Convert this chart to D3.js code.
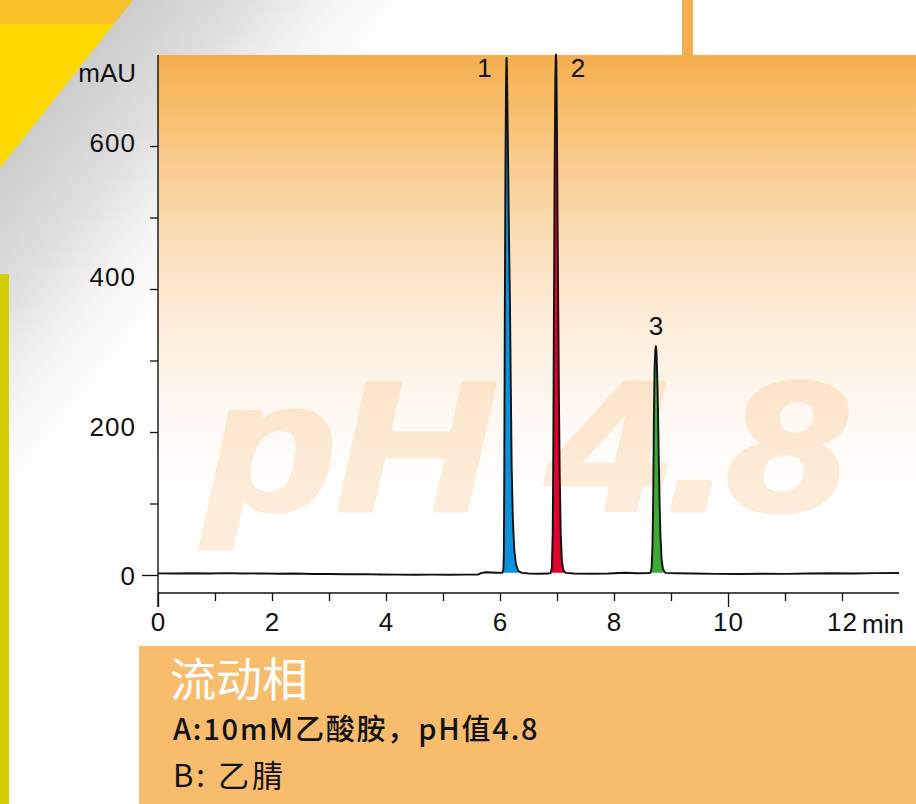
<!DOCTYPE html>
<html>
<head>
<meta charset="utf-8">
<script src="https://cdn.jsdelivr.net/npm/d3@7"></script>
<style>
  html, body { margin: 0; padding: 0; background: #fff; }
  svg { display: block; }
</style>
</head>
<body>
<script>
// ---- chromatogram data (time in min, absorbance in mAU) ----
const baselineTime = [0, 0.3, 0.6, 0.9, 1.2, 1.5, 1.8, 2.1, 2.4, 2.7, 3.0, 3.3, 3.6, 3.9, 4.2, 4.5, 4.8, 5.1, 5.4, 5.62, 5.68, 5.75, 5.85, 5.95, 6.02,
  6.5, 6.7, 6.85, 7.3, 7.6, 7.9, 8.2, 8.4, 8.6, 9.1, 9.4, 9.8, 10.2, 10.6, 11.0, 11.4, 11.8, 12.2, 12.6, 13.0];
const baselineMAU = [2.3, 2.0, 2.5, 2.2, 2.6, 2.0, 2.3, 1.8, 2.0, 1.4, 1.5, 1.0, 1.2, 0.6, 0.5, 0.4, 0.5, 0.3, 0.5, 0.8, 3.0, 3.8, 3.5, 3.2, 3.0,
  2.2, 1.8, 2.0, 2.0, 1.8, 2.2, 3.2, 2.5, 2.8, 2.5, 2.0, 1.6, 1.4, 1.8, 1.6, 2.0, 2.4, 2.0, 2.6, 2.8];

const peak1Time = [6.040, 6.060, 6.068, 6.075, 6.085, 6.095, 6.105, 6.112, 6.115, 6.120, 6.130, 6.145, 6.160, 6.175, 6.190, 6.205, 6.225, 6.250, 6.280, 6.320, 6.380];
const peak1MAU  = [3, 8, 30, 140, 380, 560, 680, 718, 723, 715, 660, 560, 460, 380, 260, 150, 80, 35, 15, 6, 3];

const peak2Time = [6.890, 6.910, 6.925, 6.935, 6.945, 6.958, 6.970, 6.978, 6.982, 6.988, 6.998, 7.010, 7.022, 7.035, 7.048, 7.065, 7.085, 7.110, 7.150];
const peak2MAU  = [3, 10, 60, 170, 350, 560, 690, 725, 728, 720, 640, 500, 370, 240, 140, 60, 20, 7, 3];

const peak3Time = [8.640, 8.660, 8.675, 8.688, 8.700, 8.712, 8.725, 8.735, 8.745, 8.758, 8.772, 8.786, 8.800, 8.815, 8.835, 8.860, 8.900];
const peak3MAU  = [3, 10, 40, 110, 220, 290, 315, 320, 312, 280, 230, 160, 100, 55, 22, 8, 3];

const peakLabels = ["1", "2", "3"];
const peakColors = ["#0a93dc", "#e2002c", "#3fa935"];

const xTicks = [0, 1, 2, 3, 4, 5, 6, 7, 8, 9, 10, 11, 12];
const xTickLabels = ["0", "", "2", "", "4", "", "6", "", "8", "", "10", "", "12"];
const yTicks = [0, 100, 200, 300, 400, 500, 600];
const yTickLabels = ["0", "", "200", "", "400", "", "600"];

const xUnit = "min";
const yUnit = "mAU";
const watermark = "pH 4.8";
const mobileTitle = "流动相";
const mobileLines = ["A:10mM乙酸胺，pH值4.8", "B: 乙腈"];

// ---- layout ----
const W = 916, H = 804;
const plotLeft = 158, plotTop = 55, plotRight = 916;
const axisY = 593;

const x = d3.scaleLinear().domain([0, 13]).range([158, 899]);
const y = d3.scaleLinear().domain([0, 600]).range([575, 146]);

const svg = d3.select("body").append("svg").attr("width", W).attr("height", H);
const defs = svg.append("defs");

// grey page background fading away from the yellow corner
const bg = defs.append("linearGradient").attr("id", "bgGrad")
  .attr("gradientUnits", "userSpaceOnUse")
  .attr("x1", 133).attr("y1", 0).attr("x2", 305).attr("y2", 137);
[[0, "#cdcdcd"], [0.25, "#d8d8d8"], [0.4, "#dfdfdf"], [0.6, "#ededed"], [0.75, "#f6f6f6"], [1, "#ffffff"]]
  .forEach(([o, c]) => bg.append("stop").attr("offset", o).attr("stop-color", c));

// orange wash behind the plot
const pg = defs.append("linearGradient").attr("id", "plotGrad")
  .attr("gradientUnits", "userSpaceOnUse")
  .attr("x1", 0).attr("y1", plotTop).attr("x2", 0).attr("y2", 600);
[[0, "#f5ae4e"], [0.08, "#f7bb66"], [0.2, "#f9cc8e"], [0.35, "#fce0bb"], [0.5, "#fdeedc"], [0.65, "#fef8f1"], [0.8, "#ffffff"]]
  .forEach(([o, c]) => pg.append("stop").attr("offset", o).attr("stop-color", c));

svg.append("rect").attr("width", W).attr("height", H).attr("fill", "url(#bgGrad)");

// corner decoration
svg.append("polygon").attr("points", "0,0 133,0 114,24 0,24").attr("fill", "#fbc12a");
svg.append("polygon").attr("points", "0,24 114,24 0,168").attr("fill", "#ffd800");
svg.append("rect").attr("x", 0).attr("y", 274).attr("width", 9).attr("height", H - 274).attr("fill", "#d3cf00");
svg.append("rect").attr("x", 682).attr("y", 0).attr("width", 11).attr("height", plotTop).attr("fill", "#f5ae4e");

// plot panel
svg.append("rect").attr("x", plotLeft).attr("y", plotTop)
  .attr("width", plotRight - plotLeft).attr("height", 640 - plotTop)
  .attr("fill", "url(#plotGrad)");

// faint heavy watermark (group opacity so the outline does not double up)
svg.append("g").attr("opacity", 0.2)
  .append("text")
  .attr("x", 206).attr("y", 510)
  .attr("font-family", "Liberation Sans, Arial, sans-serif")
  .attr("font-weight", "bold").attr("font-style", "italic")
  .attr("font-size", 184)
  .attr("textLength", 640).attr("lengthAdjust", "spacingAndGlyphs")
  .attr("fill", "#f9a645").attr("stroke", "#f9a645").attr("stroke-width", 5)
  .attr("stroke-linejoin", "round")
  .text(watermark);

// ---- trace ----
const toPts = (t, v) => t.map((d, i) => ({ t: d, v: v[i] }));
const peaks = [toPts(peak1Time, peak1MAU), toPts(peak2Time, peak2MAU), toPts(peak3Time, peak3MAU)];
const trace = toPts(baselineTime, baselineMAU).concat(...peaks).sort((a, b) => a.t - b.t);

peaks.forEach((p, i) => {
  const base = p[0].v;
  svg.append("path").datum(p)
    .attr("fill", peakColors[i])
    .attr("d", d3.area().x(d => x(d.t)).y0(y(base)).y1(d => y(d.v)));
});

svg.append("path").datum(trace)
  .attr("fill", "none").attr("stroke", "#111").attr("stroke-width", 1.9)
  .attr("stroke-linejoin", "round")
  .attr("d", d3.line().x(d => x(d.t)).y(d => y(d.v)));

// peak numbers
const labelFont = "Liberation Sans, Arial, Helvetica, sans-serif";
const labelPlace = [{ dx: -22, dy: 0, top: true }, { dx: 22, dy: 0, top: true }, { dx: 0, dy: -11, top: false }];
peaks.forEach((p, i) => {
  const apex = p.reduce((a, b) => (b.v > a.v ? b : a));
  const pl = labelPlace[i];
  svg.append("text")
    .attr("x", x(apex.t) + pl.dx)
    .attr("y", pl.top ? 77 : y(apex.v) + pl.dy)
    .attr("text-anchor", "middle")
    .attr("font-family", labelFont).attr("font-size", 26).attr("fill", "#111")
    .text(peakLabels[i]);
});

// ---- axes ----
const yAxis = d3.axisLeft(y).tickValues(yTicks).tickSize(8).tickPadding(14)
  .tickFormat((d, i) => yTickLabels[i]);
const gy = svg.append("g").attr("transform", `translate(${plotLeft},0)`).call(yAxis);
gy.select(".domain").remove();
gy.selectAll(".tick line").attr("stroke", "#111").attr("stroke-width", 1.3)
  .attr("x2", d => (d === 0 ? -16 : -8));
const yNudge = { 0: 1, 200: -5, 400: -12, 600: -3 };
gy.selectAll(".tick text")
  .attr("font-family", labelFont).attr("font-size", 26).attr("fill", "#111")
  .attr("letter-spacing", 1)
  .attr("dy", d => `${0.32 + (yNudge[d] || 0) / 26}em`);
svg.append("line").attr("x1", plotLeft).attr("x2", plotLeft).attr("y1", plotTop).attr("y2", 607)
  .attr("stroke", "#111").attr("stroke-width", 1.4);

const xAxis = d3.axisBottom(x).tickValues(xTicks).tickSize(8).tickPadding(12)
  .tickFormat((d, i) => xTickLabels[i]);
const gx = svg.append("g").attr("transform", `translate(0,${axisY})`).call(xAxis);
gx.select(".domain").remove();
gx.selectAll(".tick line").attr("stroke", "#111").attr("stroke-width", 1.3)
  .attr("y2", d => (d === 0 || d === 10 ? 14 : 8));
gx.selectAll(".tick text")
  .attr("font-family", labelFont).attr("font-size", 26).attr("fill", "#111")
  .attr("letter-spacing", 1).attr("dy", "0.71em");
svg.append("line").attr("x1", x(0)).attr("x2", x(13)).attr("y1", axisY).attr("y2", axisY)
  .attr("stroke", "#111").attr("stroke-width", 1.4);

svg.append("text").attr("x", x(12) + 20).attr("y", 633)
  .attr("font-family", labelFont).attr("font-size", 26).attr("fill", "#111")
  .text(xUnit);
svg.append("text").attr("x", 136).attr("y", 82).attr("text-anchor", "end")
  .attr("font-family", labelFont).attr("font-size", 26).attr("fill", "#111")
  .text(yUnit);

// ---- mobile phase box ----
svg.append("rect").attr("x", 139).attr("y", 646).attr("width", W - 139).attr("height", H - 646)
  .attr("fill", "#f7bd6c");
const cjk = "Noto Sans CJK SC, sans-serif";
svg.append("text").attr("x", 170).attr("y", 696)
  .attr("font-family", cjk).attr("font-size", 46).attr("fill", "#fff")
  .text(mobileTitle);
svg.append("text").attr("x", 173).attr("y", 740)
  .attr("font-family", cjk).attr("font-size", 29).attr("font-weight", 500).attr("fill", "#111")
  .attr("letter-spacing", 1.8)
  .text(mobileLines[0]);
svg.append("text").attr("x", 173).attr("y", 787)
  .attr("font-family", cjk).attr("font-size", 31).attr("fill", "#111")
  .attr("letter-spacing", 3)
  .text(mobileLines[1]);
</script>
</body>
</html>
